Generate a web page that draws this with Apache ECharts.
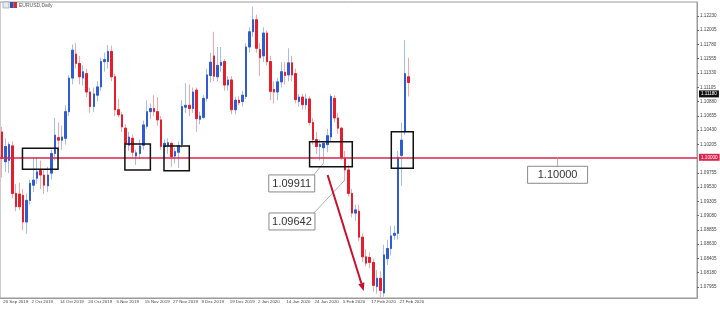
<!DOCTYPE html>
<html><head><meta charset="utf-8">
<script src="https://cdn.jsdelivr.net/npm/echarts@6/dist/echarts.min.js"></script>
<style>html,body{margin:0;padding:0;background:#fff}#c{width:720px;height:309px}</style>
</head><body><div id="c"></div>
<script>
const dates = ['20 Sep 2019','23 Sep 2019','24 Sep 2019','25 Sep 2019','26 Sep 2019','27 Sep 2019','30 Sep 2019','1 Oct 2019','2 Oct 2019','3 Oct 2019','4 Oct 2019','7 Oct 2019','8 Oct 2019','9 Oct 2019','10 Oct 2019','11 Oct 2019','14 Oct 2019','15 Oct 2019','16 Oct 2019','17 Oct 2019','18 Oct 2019','21 Oct 2019','22 Oct 2019','23 Oct 2019','24 Oct 2019','25 Oct 2019','28 Oct 2019','29 Oct 2019','30 Oct 2019','31 Oct 2019','1 Nov 2019','4 Nov 2019','5 Nov 2019','6 Nov 2019','7 Nov 2019','8 Nov 2019','11 Nov 2019','12 Nov 2019','13 Nov 2019','14 Nov 2019','15 Nov 2019','18 Nov 2019','19 Nov 2019','20 Nov 2019','21 Nov 2019','22 Nov 2019','25 Nov 2019','26 Nov 2019','27 Nov 2019','28 Nov 2019','29 Nov 2019','2 Dec 2019','3 Dec 2019','4 Dec 2019','5 Dec 2019','6 Dec 2019','9 Dec 2019','10 Dec 2019','11 Dec 2019','12 Dec 2019','13 Dec 2019','16 Dec 2019','17 Dec 2019','18 Dec 2019','19 Dec 2019','20 Dec 2019','23 Dec 2019','24 Dec 2019','26 Dec 2019','27 Dec 2019','30 Dec 2019','31 Dec 2019','2 Jan 2020','3 Jan 2020','6 Jan 2020','7 Jan 2020','8 Jan 2020','9 Jan 2020','10 Jan 2020','13 Jan 2020','14 Jan 2020','15 Jan 2020','16 Jan 2020','17 Jan 2020','20 Jan 2020','21 Jan 2020','22 Jan 2020','23 Jan 2020','24 Jan 2020','27 Jan 2020','28 Jan 2020','29 Jan 2020','30 Jan 2020','31 Jan 2020','3 Feb 2020','4 Feb 2020','5 Feb 2020','6 Feb 2020','7 Feb 2020','10 Feb 2020','11 Feb 2020','12 Feb 2020','13 Feb 2020','14 Feb 2020','17 Feb 2020','18 Feb 2020','19 Feb 2020','20 Feb 2020','21 Feb 2020','24 Feb 2020','25 Feb 2020','26 Feb 2020','27 Feb 2020','28 Feb 2020','2 Mar 2020','3 Mar 2020'];

const openP = [1.1040,1.0993,1.0995,1.1018,1.0943,1.0942,1.0940,1.0898,1.0932,1.0956,1.0967,1.0979,1.0972,1.0955,1.0975,1.1006,1.1031,1.1027,1.1030,1.1072,1.1125,1.1163,1.1148,1.1125,1.1132,1.1103,1.1080,1.1098,1.1111,1.1151,1.1151,1.1167,1.1127,1.1075,1.1067,1.1046,1.1019,1.1030,1.1002,1.1006,1.1019,1.1049,1.1072,1.1077,1.1072,1.1059,1.1017,1.1018,1.1022,1.1002,1.1008,1.1020,1.1079,1.1082,1.1077,1.1106,1.1060,1.1063,1.1093,1.1129,1.1160,1.1127,1.1145,1.1151,1.1114,1.1122,1.1075,1.1090,1.1088,1.1096,1.1174,1.1198,1.1217,1.1170,1.1160,1.1196,1.1151,1.1107,1.1103,1.1119,1.1134,1.1130,1.1149,1.1132,1.1088,1.1095,1.1083,1.1092,1.1055,1.1028,1.1017,1.1015,1.1020,1.1032,1.1093,1.1062,1.1046,1.0998,1.0980,1.0943,1.0912,1.0915,1.0874,1.0843,1.0842,1.0834,1.0796,1.0809,1.0786,1.0840,1.0856,1.0877,1.0880,1.1003,1.1040,1.1127];
const highP = [1.1048,1.1030,1.1024,1.1025,1.0958,1.0960,1.0950,1.0943,1.0965,1.1000,1.1000,1.0995,1.0980,1.0985,1.1012,1.1062,1.1055,1.1050,1.1082,1.1130,1.1178,1.1180,1.1160,1.1145,1.1140,1.1110,1.1110,1.1120,1.1157,1.1165,1.1177,1.1176,1.1132,1.1092,1.1072,1.1052,1.1040,1.1036,1.1012,1.1028,1.1058,1.1090,1.1085,1.1098,1.1095,1.1065,1.1028,1.1030,1.1025,1.1015,1.1025,1.1090,1.1117,1.1115,1.1110,1.1110,1.1072,1.1098,1.1140,1.1165,1.1198,1.1174,1.1174,1.1155,1.1128,1.1128,1.1095,1.1096,1.1105,1.1180,1.1205,1.1238,1.1225,1.1180,1.1205,1.1200,1.1160,1.1120,1.1125,1.1150,1.1150,1.1172,1.1160,1.1140,1.1100,1.1100,1.1100,1.1096,1.1062,1.1040,1.1028,1.1025,1.1045,1.1100,1.1098,1.1070,1.1048,1.1010,1.0988,1.0950,1.0925,1.0925,1.0880,1.0855,1.0850,1.0840,1.0822,1.0820,1.0862,1.0870,1.0892,1.0892,1.1010,1.1055,1.1185,1.1157];
const lowP = [1.0968,1.0977,1.0975,1.0935,1.0915,1.0917,1.0885,1.0879,1.0925,1.0945,1.0958,1.0950,1.0942,1.0945,1.0965,1.0995,1.1010,1.1012,1.1020,1.1065,1.1115,1.1140,1.1115,1.1113,1.1095,1.1070,1.1072,1.1088,1.1105,1.1135,1.1140,1.1120,1.1065,1.1063,1.1040,1.1015,1.1010,1.1000,1.0988,1.0998,1.1012,1.1045,1.1060,1.1065,1.1050,1.1012,1.1000,1.1005,1.0985,1.0990,1.0983,1.1015,1.1070,1.1065,1.1070,1.1040,1.1052,1.1060,1.1088,1.1118,1.1120,1.1120,1.1135,1.1105,1.1105,1.1068,1.1068,1.1082,1.1080,1.1092,1.1165,1.1190,1.1165,1.1128,1.1150,1.1145,1.1090,1.1085,1.1090,1.1110,1.1115,1.1120,1.1120,1.1085,1.1080,1.1075,1.1075,1.1050,1.1020,1.1005,1.0995,1.0991,1.1008,1.1025,1.1055,1.1037,1.0995,1.0964,1.0938,1.0905,1.0900,1.0868,1.0835,1.0828,1.0825,1.0788,1.0785,1.0778,1.0780,1.0830,1.0845,1.0870,1.0870,1.0955,1.1035,1.1096];
const closeP = [1.0998,1.1017,1.1020,1.0943,1.0922,1.0922,1.0898,1.0932,1.0959,1.0964,1.0977,1.0972,1.0956,1.0972,1.1006,1.1035,1.1027,1.1032,1.1072,1.1125,1.1169,1.1148,1.1127,1.1135,1.1103,1.1080,1.1100,1.1111,1.1151,1.1154,1.1167,1.1127,1.1075,1.1067,1.1048,1.1022,1.1032,1.1008,1.1007,1.1018,1.1051,1.1072,1.1077,1.1072,1.1059,1.1017,1.1022,1.1023,1.1001,1.1009,1.1018,1.1080,1.1082,1.1077,1.1103,1.1061,1.1065,1.1093,1.1130,1.1150,1.1128,1.1145,1.1150,1.1114,1.1122,1.1075,1.1090,1.1086,1.1098,1.1174,1.1198,1.1217,1.1172,1.1157,1.1196,1.1151,1.1104,1.1103,1.1119,1.1135,1.1129,1.1149,1.1130,1.1091,1.1095,1.1083,1.1092,1.1055,1.1028,1.1017,1.1020,1.1022,1.1034,1.1096,1.1062,1.1046,1.1000,1.0980,1.0943,1.0912,1.0917,1.0874,1.0843,1.0833,1.0834,1.0798,1.0809,1.0790,1.0846,1.0856,1.0876,1.0880,1.1000,1.1027,1.1132,1.1118];

const yTicks = [1.07955,1.08180,1.08405,1.08630,1.08855,1.09080,1.09305,1.09530,1.09755,1.10205,1.10430,1.10655,1.10880,1.11105,1.11330,1.11555,1.11780,1.12005,1.12230,1.12455];
const keyLevel = 1.10000;
const lastPrice = 1.11180;
const noteLows = [{idx: 91, price: 1.09911}, {idx: 97, price: 1.09642}];

const BLUE = '#2f5bd3', RED = '#e41e2b', BLUE_W = '#a6bcef', RED_W = '#f4a6ab';
const N_SLOTS = 197;
const cats = dates.concat(Array.from({length: N_SLOTS - dates.length}, (_, k) => '_' + k));
const full = dates.map((d, i) => [openP[i], closeP[i], lowP[i], highP[i]]);
const bodies = dates.map((d, i) => [openP[i], closeP[i], Math.min(openP[i], closeP[i]), Math.max(openP[i], closeP[i])]);
const showIdx = (i) => i % 8 === 0 && i < dates.length;

const chart = echarts.init(document.getElementById('c'), null, {renderer: 'canvas'});
chart.setOption({
  animation: false,
  grid: {left: 0, right: 23, top: 2, bottom: 11, show: true, borderColor: '#9a9a9a', borderWidth: 1},
  xAxis: {
    type: 'category', data: cats, boundaryGap: true,
    axisLine: {lineStyle: {color: '#9a9a9a', width: 1}},
    axisTick: {alignWithLabel: true, interval: showIdx, length: 5, lineStyle: {color: '#666'}},
    axisLabel: {interval: showIdx, align: 'left', fontSize: 4.4, color: '#444', margin: 2, padding: [0, 0, 0, 1.5], fontFamily: 'Liberation Sans'},
    splitLine: {show: false}
  },
  yAxis: {
    type: 'value', position: 'right', min: 1.0778, max: 1.1245,
    axisLine: {show: true, lineStyle: {color: '#9a9a9a'}},
    axisTick: {show: true, length: 2, customValues: yTicks, lineStyle: {color: '#666'}},
    axisLabel: {customValues: yTicks, formatter: v => v.toFixed(5), fontSize: 4.6, color: '#444', margin: 3, fontFamily: 'Liberation Sans'},
    splitLine: {show: false}
  },
  series: [
    {type: 'candlestick', data: full, barWidth: 2, silent: true,
     itemStyle: {color: BLUE_W, color0: RED_W, borderColor: BLUE_W, borderColor0: RED_W, borderWidth: 1}},
    {type: 'candlestick', data: bodies, barWidth: 2, silent: true, z: 3,
     itemStyle: {color: BLUE, color0: RED, borderColor: BLUE, borderColor0: RED, borderWidth: 1},
     markLine: {symbol: 'none', silent: true, z: 5, data: [
       {yAxis: keyLevel, lineStyle: {color: '#d8254d', width: 1.6, type: 'solid'},
        label: {show: true, position: 'end', distance: 2, formatter: keyLevel.toFixed(5), fontSize: 4.6, color: '#fff', backgroundColor: '#d8254d', padding: [1, 2, 1, 2], fontFamily: 'Liberation Sans'}},
       {yAxis: lastPrice, lineStyle: {color: 'rgba(0,0,0,0)', width: 0},
        label: {show: true, position: 'end', distance: 2, formatter: lastPrice.toFixed(5), fontSize: 4.6, color: '#fff', backgroundColor: '#111', padding: [1, 2, 1, 2], fontFamily: 'Liberation Sans'}}
     ]}}
  ]
});

// annotations anchored to the data scales
const a0 = chart.convertToPixel({gridIndex: 0}, [0, keyLevel]);
const a1 = chart.convertToPixel({gridIndex: 0}, [1, keyLevel]);
const step = a1[0] - a0[0];
const px = i => a0[0] + i * step;
const py = p => chart.convertToPixel({gridIndex: 0}, [0, p])[1];

const zoneBoxes = [[5.85, 15.9, 1.09811, 1.10142], [34.8, 42.0, 1.09800, 1.10210], [45.85, 53.0, 1.09789, 1.10178], [87.0, 99.07, 1.09852, 1.10246], [110.1, 116.3, 1.09826, 1.10404]];
const g = [];
zoneBoxes.forEach(b => {
  const x1 = px(b[0]), x2 = px(b[1]), y1 = py(b[3]), y2 = py(b[2]);
  g.push({type: 'rect', shape: {x: x1, y: y1, width: x2 - x1, height: y2 - y1}, style: {fill: 'none', stroke: '#111', lineWidth: 1.5}, z: 50});
});
function noteBox(ax, ay, bx, by, w, h, txt, lx, ly) {
  g.push({type: 'line', shape: {x1: ax, y1: ay, x2: lx, y2: ly}, style: {stroke: '#999', lineWidth: 0.8}, z: 49});
  g.push({type: 'rect', shape: {x: bx, y: by, width: w, height: h}, style: {fill: '#fff', stroke: '#8a8a8a', lineWidth: 1}, z: 50});
  g.push({type: 'text', x: bx + w / 2, y: by + h / 2 + 0.5, style: {text: txt, fill: '#333', font: '11px "Liberation Sans", Arial', align: 'center', verticalAlign: 'middle'}, z: 51});
}
noteLows.forEach((n, k) => {
  const ax = px(n.idx), ay = py(n.price);
  const w = 46, h = 17;
  const bx = ax - (k === 0 ? 55 : 76), by = ay + (k === 0 ? 12 : 33);
  noteBox(ax, ay, bx, by, w, h, n.price.toFixed(5), bx + w - 1, by);
});
{
  const ax = px(157.1), ay = py(keyLevel);
  const w = 60, h = 17;
  noteBox(ax, ay, ax - w / 2, ay + 9, w, h, keyLevel.toFixed(5), ax, ay + 9);
}
{
  const x1 = px(92.1), y1 = py(1.09721), x2 = px(102.3), y2 = py(1.07891);
  const ang = Math.atan2(y2 - y1, x2 - x1), L = 8, W = 3.2;
  const bxp = x2 - L * Math.cos(ang), byp = y2 - L * Math.sin(ang);
  g.push({type: 'line', shape: {x1: x1, y1: y1, x2: bxp, y2: byp}, style: {stroke: '#c8102e', lineWidth: 2}, z: 50});
  g.push({type: 'polygon', shape: {points: [[x2, y2], [bxp + W * Math.sin(ang), byp - W * Math.cos(ang)], [bxp - W * Math.sin(ang), byp + W * Math.cos(ang)]]}, style: {fill: '#c8102e'}, z: 50});
}
g.push({type: 'rect', shape: {x: 3, y: 2, width: 6, height: 6}, style: {fill: '#e8e8ee', stroke: '#8890a8', lineWidth: 0.6}, z: 60});
g.push({type: 'rect', shape: {x: 10, y: 2, width: 3.5, height: 6}, style: {fill: '#2a4fb8'}, z: 60});
g.push({type: 'rect', shape: {x: 13.5, y: 2, width: 3.5, height: 6}, style: {fill: '#d42a30'}, z: 60});
g.push({type: 'text', x: 19, y: 5.2, style: {text: 'EURUSD,Daily', fill: '#555', font: '5px "Liberation Sans", Arial', verticalAlign: 'middle'}, z: 60});
chart.setOption({graphic: g});
</script>
</body></html>
